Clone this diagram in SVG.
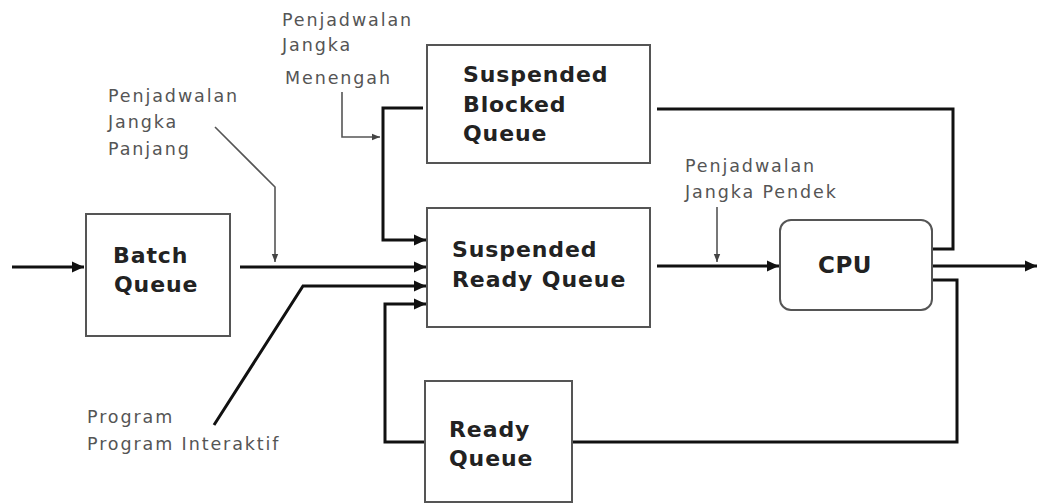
<svg xmlns="http://www.w3.org/2000/svg" width="1037" height="504" viewBox="0 0 1037 504">
<defs>
<style>
.box{fill:#fff;stroke:#555;stroke-width:2}
.t{font-family:"DejaVu Sans",Verdana,sans-serif;font-weight:bold;font-size:22px;letter-spacing:0.9px;fill:#222}
.lbl{font-family:"DejaVu Sans",Verdana,sans-serif;font-size:17.5px;letter-spacing:1.9px;fill:#555}
.ln{fill:none;stroke:#111;stroke-width:3}
.ptr{fill:none;stroke:#555;stroke-width:1.6}
</style>
<marker id="ah" viewBox="0 0 10 10" refX="10" refY="5" markerWidth="4" markerHeight="4" orient="auto" markerUnits="strokeWidth">
<path d="M0,0.5 L10,5 L0,9.5 z" fill="#111"/>
</marker>
<marker id="ahs" viewBox="0 0 10 10" refX="10" refY="5" markerWidth="5" markerHeight="5" orient="auto" markerUnits="strokeWidth">
<path d="M0,1 L10,5 L0,9 z" fill="#444"/>
</marker>
</defs>
<rect width="1037" height="504" fill="#fff"/>

<g id="connectors">
<path class="ln" d="M12,267 H84" marker-end="url(#ah)"/>
<path class="ln" d="M240,267 H426" marker-end="url(#ah)"/>
<path class="ln" d="M214,425 L303,286 H426" marker-end="url(#ah)"/>
<path class="ln" d="M423,108 H383 V240 H426" marker-end="url(#ah)"/>
<path class="ln" d="M425,442 H385 V304 H426" marker-end="url(#ah)"/>
<path class="ln" d="M657,266 H779" marker-end="url(#ah)"/>
<path class="ln" d="M932,266 H1037" marker-end="url(#ah)"/>
<path class="ln" d="M657,109 H953 V249 H932"/>
<path class="ln" d="M932,280 H957 V442 H572"/>
<path class="ptr" d="M215,127 L275,187 V262" marker-end="url(#ahs)"/>
<path class="ptr" d="M342,92 V137 H380" marker-end="url(#ahs)"/>
<path class="ptr" d="M717,207 V262" marker-end="url(#ahs)"/>
</g>

<g id="batch-queue">
<rect class="box" x="86" y="214" width="144" height="122"/>
<text class="t" x="113" y="263">Batch</text>
<text class="t" x="114" y="292">Queue</text>
</g>

<g id="suspended-blocked-queue">
<rect class="box" x="427" y="45" width="223" height="118"/>
<text class="t" x="463" y="82">Suspended</text>
<text class="t" x="463" y="112">Blocked</text>
<text class="t" x="463" y="141">Queue</text>
</g>

<g id="suspended-ready-queue">
<rect class="box" x="427" y="208" width="223" height="119"/>
<text class="t" x="452" y="257">Suspended</text>
<text class="t" x="452" y="287">Ready Queue</text>
</g>

<g id="ready-queue">
<rect class="box" x="425" y="381" width="147" height="121"/>
<text class="t" x="449" y="437">Ready</text>
<text class="t" x="449" y="466">Queue</text>
</g>

<g id="cpu">
<rect class="box" x="780" y="220" width="152" height="90" rx="11" ry="11"/>
<text class="t" x="818" y="273" style="font-size:23px;letter-spacing:0.5px">CPU</text>
</g>

<g id="label-panjang">
<text class="lbl" x="108" y="102">Penjadwalan</text>
<text class="lbl" x="108" y="128">Jangka</text>
<text class="lbl" x="108" y="155">Panjang</text>
</g>
<g id="label-menengah">
<text class="lbl" x="282" y="26">Penjadwalan</text>
<text class="lbl" x="282" y="51">Jangka</text>
<text class="lbl" x="285" y="84">Menengah</text>
</g>
<g id="label-pendek">
<text class="lbl" x="685" y="172">Penjadwalan</text>
<text class="lbl" x="685" y="198">Jangka Pendek</text>
</g>
<g id="label-program">
<text class="lbl" x="87" y="423">Program</text>
<text class="lbl" x="87" y="450">Program Interaktif</text>
</g>
</svg>
